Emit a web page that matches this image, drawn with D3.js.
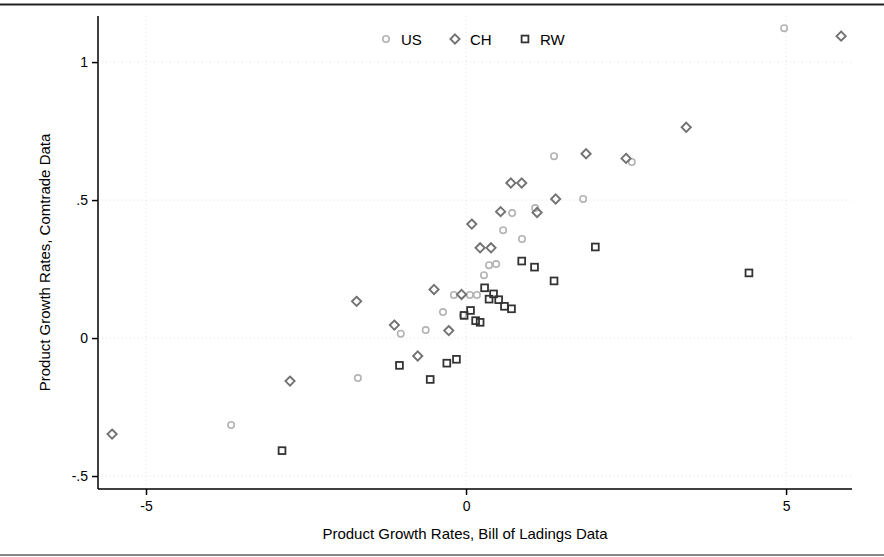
<!DOCTYPE html>
<html>
<head>
<meta charset="utf-8">
<script src="https://cdn.jsdelivr.net/npm/d3@7"></script>
<style>
  html, body { margin: 0; padding: 0; background: #fff; }
  svg { display: block; font-family: "Liberation Sans", Arial, Helvetica, sans-serif; }
</style>
</head>
<body>
<svg id="chart" width="884" height="557"></svg>
<script>
// ---- Data ----
const usX = [4.97, 1.375, 2.59, 1.83, 1.08, 0.72, 0.58, 0.875, 0.47, 0.36, 0.28, -0.19, 0.06, 0.17, -0.36, -0.05, -1.02, -0.63, -1.69, -3.67];
const usY = [1.123, 0.659, 0.638, 0.504, 0.471, 0.453, 0.391, 0.359, 0.268, 0.264, 0.228, 0.156, 0.156, 0.156, 0.094, 0.083, 0.016, 0.029, -0.145, -0.315];

const chX = [5.86, 3.44, 1.875, 2.50, 1.40, 1.11, 0.54, 0.70, 0.87, 0.09, 0.22, 0.39, -0.50, -0.07, -1.12, -0.27, -0.755, -1.71, -2.75, -5.53];
const chY = [1.094, 0.764, 0.668, 0.651, 0.504, 0.455, 0.458, 0.562, 0.562, 0.413, 0.327, 0.327, 0.176, 0.158, 0.047, 0.027, -0.065, 0.133, -0.156, -0.348];

const rwX = [2.02, 4.42, 1.375, 0.87, 1.07, 0.29, 0.43, 0.36, 0.51, 0.60, 0.71, 0.07, -0.03, 0.15, 0.22, -1.04, -0.30, -0.15, -0.56, -2.875];
const rwY = [0.330, 0.236, 0.207, 0.279, 0.257, 0.182, 0.160, 0.141, 0.139, 0.115, 0.106, 0.100, 0.082, 0.063, 0.057, -0.099, -0.091, -0.077, -0.150, -0.408];

const xTicks = [-5, 0, 5];
const xTickLabels = ["-5", "0", "5"];
const yTicks = [-0.5, 0, 0.5, 1];
const yTickLabels = ["-.5", "0", ".5", "1"];

const seriesNames = ["US", "CH", "RW"];
const xTitle = "Product Growth Rates, Bill of Ladings Data";
const yTitle = "Product Growth Rates, Comtrade Data";

// ---- Layout ----
const svg = d3.select("#chart");
const pL = 98, pR = 852, pT = 16, pB = 489;

const x = d3.scaleLinear().domain([-5.75, 6.03]).range([pL, pR]);
const y = d3.scaleLinear().domain([-0.547, 1.167]).range([pB, pT]);

// frame lines (top and bottom rules)
svg.append("line").attr("x1", 0).attr("x2", 884).attr("y1", 4.5).attr("y2", 4.5)
  .attr("stroke", "#222").attr("stroke-width", 2);
svg.append("line").attr("x1", 0).attr("x2", 884).attr("y1", 555).attr("y2", 555)
  .attr("stroke", "#888").attr("stroke-width", 2);

// gridlines
const grid = svg.append("g");
grid.selectAll(".gy").data(yTicks).enter().append("line")
  .attr("x1", pL).attr("x2", pR)
  .attr("y1", d => y(d)).attr("y2", d => y(d))
  .attr("stroke", "#e2e2e2").attr("stroke-width", 1).attr("stroke-dasharray", "1,3");
grid.selectAll(".gx").data(xTicks).enter().append("line")
  .attr("y1", pT).attr("y2", pB)
  .attr("x1", d => x(d)).attr("x2", d => x(d))
  .attr("stroke", "#e2e2e2").attr("stroke-width", 1).attr("stroke-dasharray", "1,3");

// axes
const xAxis = d3.axisBottom(x).tickValues(xTicks)
  .tickFormat((d, i) => xTickLabels[i]).tickSize(6).tickPadding(6).tickSizeOuter(0);
const yAxis = d3.axisLeft(y).tickValues(yTicks)
  .tickFormat((d, i) => yTickLabels[i]).tickSize(6).tickPadding(4).tickSizeOuter(0);

const gx = svg.append("g").attr("transform", `translate(0,${pB})`).call(xAxis);
const gy = svg.append("g").attr("transform", `translate(${pL},0)`).call(yAxis);
[gx, gy].forEach(g => {
  g.select(".domain").attr("stroke", "#000").attr("stroke-width", 1.5);
  g.selectAll(".tick line").attr("stroke", "#000").attr("stroke-width", 1.5);
  g.selectAll(".tick text").attr("fill", "#000").style("font-size", "14px")
    .style("font-family", '"Liberation Sans", Arial, sans-serif');
});
gx.select(".domain").attr("d", `M${pL},0H${pR}`);
gy.select(".domain").attr("d", `M0,${pT}V${pB}`);

// axis titles
svg.append("text").attr("x", (pL + pR) / 2 - 10).attr("y", 539)
  .attr("text-anchor", "middle").style("font-size", "15px").attr("fill", "#000").text(xTitle);
svg.append("text").attr("transform", `translate(50,${(pT + pB) / 2 + 10}) rotate(-90)`)
  .attr("text-anchor", "middle").style("font-size", "15px").attr("fill", "#000").text(yTitle);

// markers
const usCol = "#b3b3b3", chCol = "#727272", rwCol = "#333333";
const plot = svg.append("g");

const usData = usX.map((v, i) => ({ x: v, y: usY[i] }));
const chData = chX.map((v, i) => ({ x: v, y: chY[i] }));
const rwData = rwX.map((v, i) => ({ x: v, y: rwY[i] }));

plot.selectAll(".us").data(usData).enter().append("circle")
  .attr("cx", d => x(d.x)).attr("cy", d => y(d.y)).attr("r", 3.2)
  .attr("fill", "none").attr("stroke", usCol).attr("stroke-width", 1.6);

const diamond = s => `M0,${-s}L${s},0L0,${s}L${-s},0Z`;
plot.selectAll(".ch").data(chData).enter().append("path")
  .attr("d", diamond(4.6))
  .attr("transform", d => `translate(${x(d.x)},${y(d.y)})`)
  .attr("fill", "none").attr("stroke", chCol).attr("stroke-width", 1.9);

plot.selectAll(".rw").data(rwData).enter().append("rect")
  .attr("x", d => x(d.x) - 3.4).attr("y", d => y(d.y) - 3.4)
  .attr("width", 6.8).attr("height", 6.8)
  .attr("fill", "none").attr("stroke", rwCol).attr("stroke-width", 1.8);

// legend
const lg = svg.append("g");
const legX = [386, 455, 525];
const legY = 39;
lg.append("circle").attr("cx", legX[0]).attr("cy", legY).attr("r", 3.2)
  .attr("fill", "none").attr("stroke", usCol).attr("stroke-width", 1.6);
lg.append("path").attr("d", diamond(4.6)).attr("transform", `translate(${legX[1]},${legY})`)
  .attr("fill", "none").attr("stroke", chCol).attr("stroke-width", 1.9);
lg.append("rect").attr("x", legX[2] - 3.4).attr("y", legY - 3.4).attr("width", 6.8).attr("height", 6.8)
  .attr("fill", "none").attr("stroke", rwCol).attr("stroke-width", 1.8);
seriesNames.forEach((n, i) => {
  lg.append("text").attr("x", legX[i] + 15).attr("y", legY + 5.5)
    .style("font-size", "15px").attr("fill", "#000").text(n);
});
</script>
</body>
</html>
